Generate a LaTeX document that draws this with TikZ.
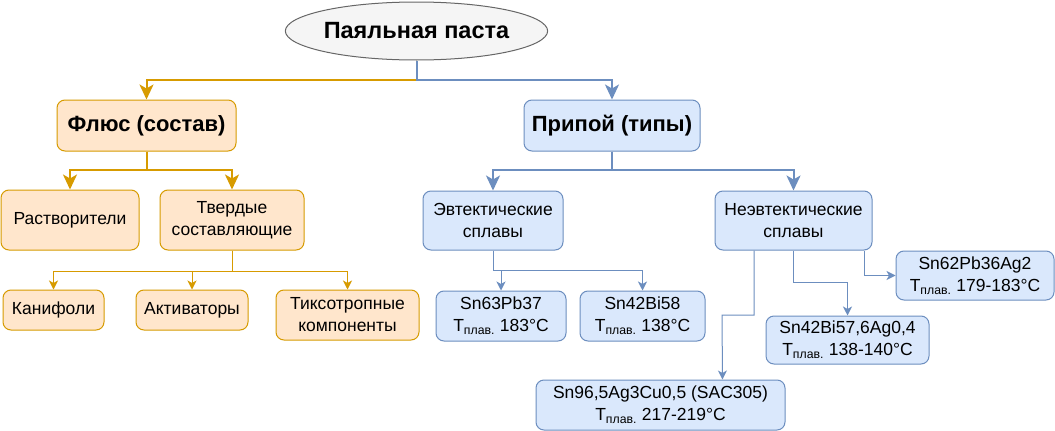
\documentclass[tikz,border=0pt]{standalone}
\usepackage{fontspec}
\setmainfont{Liberation Sans}
\usetikzlibrary{shapes.geometric,arrows.meta}
\definecolor{ofill}{HTML}{FFE6CC}
\definecolor{oline}{HTML}{D79B00}
\definecolor{bfill}{HTML}{DAE8FC}
\definecolor{bline}{HTML}{6C8EBF}
\definecolor{gfill}{HTML}{F5F5F5}
\definecolor{gline}{HTML}{666666}
\begin{document}
\begin{tikzpicture}[x=1pt,y=-1pt,
  box/.style={rectangle,rounded corners=8pt,line width=1pt,inner sep=0pt,align=center,
    font=\fontsize{17.5}{22}\selectfont},
  obox/.style={box,fill=ofill,draw=oline},
  bbox/.style={box,fill=bfill,draw=bline},
  ttl/.style={font=\fontsize{22}{26}\selectfont\bfseries},
  ocon/.style={draw=oline,line width=2pt,-{Stealth[length=15pt,width=14pt,inset=4pt]}},
  bcon/.style={draw=bline,line width=2pt,-{Stealth[length=15pt,width=14pt,inset=4pt]}},
  ocons/.style={draw=oline,line width=1pt,-{Stealth[length=9pt,width=9pt,inset=2.5pt]}},
  bcons/.style={draw=bline,line width=1pt,-{Stealth[length=9pt,width=9pt,inset=2.5pt]}}
]
\useasboundingbox (0,0) rectangle (1055,431);
\fill[white] (0,0) rectangle (1055,431);

\node[ellipse,fill=gfill,draw=gline,line width=1pt,minimum width=225pt,minimum height=58pt,inner sep=0pt,
  font=\fontsize{23.5}{28}\selectfont\bfseries] (root) at (416.5,31) {Паяльная паста};

\node[obox,ttl,minimum width=179pt,minimum height=51pt] (flux) at (146.5,125.5) {Флюс (состав)};
\node[bbox,ttl,minimum width=176pt,minimum height=51pt] (solder) at (612,125.5) {Припой (типы)};

\node[obox,minimum width=138pt,minimum height=60pt] (rast) at (70,220) {Растворители};
\node[obox,minimum width=144pt,minimum height=60pt] (tverd) at (232,220) {Твердые\\составляющие};
\node[obox,minimum width=101pt,minimum height=40pt] (kan) at (53.5,310) {Канифоли};
\node[obox,minimum width=112pt,minimum height=40pt] (akt) at (192,310) {Активаторы};
\node[obox,minimum width=143pt,minimum height=50pt] (tiks) at (347.5,315) {Тиксотропные\\компоненты};

\node[bbox,minimum width=140pt,minimum height=59pt] (evt) at (493,220.5) {Эвтектические\\сплавы};
\node[bbox,minimum width=157pt,minimum height=59pt] (neevt) at (793.5,220.5) {Неэвтектические\\сплавы};
\node[bbox,minimum width=130pt,minimum height=50pt] (sn63) at (501,316) {Sn63Pb37\\T\textsubscript{плав.} 183°C};
\node[bbox,minimum width=125pt,minimum height=50pt] (sn42) at (642.5,316) {Sn42Bi58\\T\textsubscript{плав.} 138°C};
\node[bbox,minimum width=158pt,minimum height=49pt] (sn62) at (975,275.5) {Sn62Pb36Ag2\\T\textsubscript{плав.} 179-183°C};
\node[bbox,minimum width=163pt,minimum height=48pt] (sn42bi) at (847.5,340) {Sn42Bi57,6Ag0,4\\T\textsubscript{плав.} 138-140°C};
\node[bbox,minimum width=249pt,minimum height=50pt] (sac) at (660.5,405) {Sn96,5Ag3Cu0,5 (SAC305)\\T\textsubscript{плав.} 217-219°C};

\coordinate (j0) at (416.5,80);
\coordinate (j1) at (146.5,170);
\coordinate (j2) at (232,271);
\coordinate (j3) at (612,170);
\coordinate (j4) at (493,270);
\coordinate (j5) at (793.5,282);
\coordinate (k1) at (754,315);
\coordinate (k2) at (722,315);

\draw[ocon] (root.south) -- (j0) -| (flux.north);
\draw[bcon] (root.south) -- (j0) -| (solder.north);
\draw[ocon] (flux.south) -- (j1) -| (rast.north);
\draw[ocon] (flux.south) -- (j1) -| (tverd.north);
\draw[ocons] (tverd.south) -- (j2) -| (kan.north);
\draw[ocons] (tverd.south) -- (j2) -| (akt.north);
\draw[ocons] (tverd.south) -- (j2) -| (tiks.north);
\draw[bcon] (solder.south) -- (j3) -| (evt.north);
\draw[bcon] (solder.south) -- (j3) -| (neevt.north);
\draw[bcons] (evt.south) -- (j4) -| (sn63.north);
\draw[bcons] (evt.south) -- (j4) -| (sn42.north);
\draw[bcons] ([xshift=70.5pt]neevt.south) |- (sn62.west);
\draw[bcons] (neevt.south) -- (j5) -| (sn42bi.north);
\draw[bcons] ([xshift=-39.5pt]neevt.south) -- (k1) -- (k2) -- ([xshift=62pt]sac.north);
\end{tikzpicture}
\end{document}
